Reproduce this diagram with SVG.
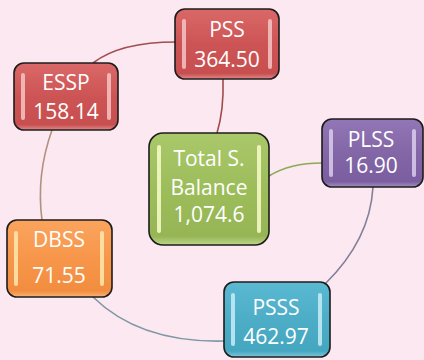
<svg xmlns="http://www.w3.org/2000/svg" width="424" height="360" viewBox="0 0 424 360">
<defs>
<linearGradient id="gRed" x1="0" y1="0" x2="0" y2="1"><stop offset="0" stop-color="#da6868"/><stop offset="0.5" stop-color="#cd5454"/><stop offset="0.92" stop-color="#c84f4f"/><stop offset="1" stop-color="#e08a8a"/></linearGradient>
<linearGradient id="gPur" x1="0" y1="0" x2="0" y2="1"><stop offset="0" stop-color="#9276b5"/><stop offset="0.5" stop-color="#8266a6"/><stop offset="0.92" stop-color="#7b5ea0"/><stop offset="1" stop-color="#a48fc2"/></linearGradient>
<linearGradient id="gGrn" x1="0" y1="0" x2="0" y2="1"><stop offset="0" stop-color="#aac86a"/><stop offset="0.5" stop-color="#9dbd5b"/><stop offset="0.92" stop-color="#96b554"/><stop offset="1" stop-color="#bcd68a"/></linearGradient>
<linearGradient id="gOrg" x1="0" y1="0" x2="0" y2="1"><stop offset="0" stop-color="#fba45e"/><stop offset="0.5" stop-color="#f7964a"/><stop offset="0.92" stop-color="#f28d3f"/><stop offset="1" stop-color="#f9b37a"/></linearGradient>
<linearGradient id="gBlu" x1="0" y1="0" x2="0" y2="1"><stop offset="0" stop-color="#5bb9d2"/><stop offset="0.5" stop-color="#4dadc7"/><stop offset="0.92" stop-color="#45a6c0"/><stop offset="1" stop-color="#7fc6da"/></linearGradient>
</defs>
<style>
.box{stroke:#1c1c1c;stroke-width:1.6}
.t{font-family:"Open Sans","Noto Sans",sans-serif;font-size:21px;fill:#ffffff;text-anchor:middle}
.c{fill:none;stroke-width:1.6}
.hr{fill:#f4c4c4;opacity:0.85}
.hp{fill:#d9ccec;opacity:0.85}
.hg{fill:#f4f8c4;opacity:0.9}
.ho{fill:#fde4a8;opacity:0.9}
.hb{fill:#c8ecf6;opacity:0.85}
</style>
<rect width="424" height="360" fill="#fce8f0"/>
<g id="connectors">
<path class="c" stroke="#a04e50" d="M176,42 Q120,42 93,63"/>
<path class="c" stroke="#b0927e" d="M52,130 Q36,175 42,220"/>
<path class="c" stroke="#7f98a4" d="M93,297 Q140,343 224,341"/>
<path class="c" stroke="#857f9a" d="M325,284 Q370,240 373,187"/>
<path class="c" stroke="#a04a4c" d="M223,79 Q224,110 217,133"/>
<path class="c" stroke="#8aab55" d="M269,176 Q290,163 322,163"/>
</g>
<g id="PSS">
<rect class="box" x="175" y="9" width="104" height="70" rx="10" fill="url(#gRed)"/>
<rect class="hr" x="182" y="19" width="4" height="50" rx="2"/>
<rect class="hr" x="268" y="19" width="4" height="50" rx="2"/>
<text class="t" x="227" y="37">PSS</text>
<text class="t" x="227" y="67">364.50</text>
</g>
<g id="ESSP">
<rect class="box" x="14" y="63" width="104" height="67" rx="10" fill="url(#gRed)"/>
<rect class="hr" x="21" y="73" width="4" height="47" rx="2"/>
<rect class="hr" x="107" y="73" width="4" height="47" rx="2"/>
<text class="t" x="66" y="90">ESSP</text>
<text class="t" x="66" y="119">158.14</text>
</g>
<g id="PLSS">
<rect class="box" x="322" y="119" width="101" height="68" rx="10" fill="url(#gPur)"/>
<rect class="hp" x="329" y="129" width="4" height="48" rx="2"/>
<rect class="hp" x="412" y="129" width="4" height="48" rx="2"/>
<text class="t" x="371" y="147">PLSS</text>
<text class="t" x="371" y="173">16.90</text>
</g>
<g id="Total">
<rect class="box" x="149" y="133" width="120" height="112" rx="14" fill="url(#gGrn)"/>
<rect class="hg" x="157" y="145" width="4" height="88" rx="2"/>
<rect class="hg" x="257" y="145" width="4" height="88" rx="2"/>
<text class="t" x="209" y="166">Total S.</text>
<text class="t" x="209" y="195">Balance</text>
<text class="t" x="209" y="222">1,074.6</text>
</g>
<g id="DBSS">
<rect class="box" x="7" y="220" width="105" height="77" rx="10" fill="url(#gOrg)"/>
<rect class="ho" x="14" y="231" width="4" height="55" rx="2"/>
<rect class="ho" x="100" y="231" width="4" height="55" rx="2"/>
<text class="t" x="59" y="247">DBSS</text>
<text class="t" x="59" y="283">71.55</text>
</g>
<g id="PSSS">
<rect class="box" x="224" y="282" width="106" height="75" rx="10" fill="url(#gBlu)"/>
<rect class="hb" x="231" y="293" width="4" height="53" rx="2"/>
<rect class="hb" x="318" y="293" width="4" height="53" rx="2"/>
<text class="t" x="276" y="315">PSSS</text>
<text class="t" x="276" y="344">462.97</text>
</g>
</svg>
